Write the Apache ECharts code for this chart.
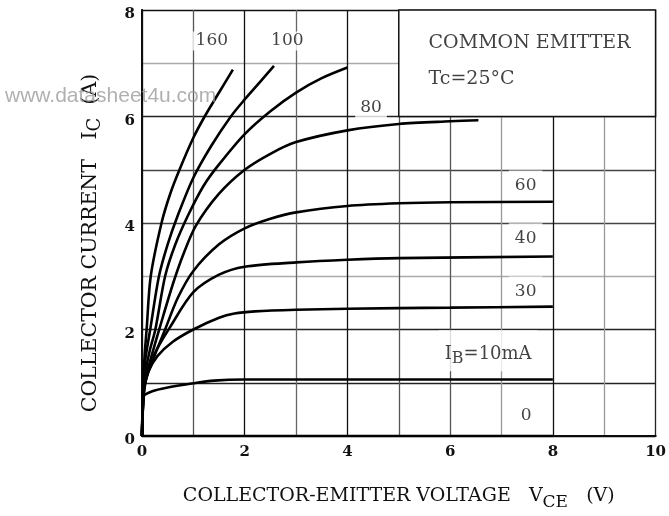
<!DOCTYPE html>
<html>
<head>
<meta charset="utf-8">
<script src="https://cdn.jsdelivr.net/npm/echarts@6/dist/echarts.min.js"></script>
<style>html,body{margin:0;padding:0;background:#fff}#c{width:669px;height:516px}</style>
</head>
<body>
<div id="c"></div>
<script>
// ---- data (VCE [V], IC [A]) ----
const ib0   = [[0,0],[8,0]];
const ib10  = [[0,0],[0.01,0.45],[0.03,0.74],[0.2,0.84],[0.5,0.91],[1,0.99],[1.4,1.04],[2,1.06],[4,1.06],[6,1.06],[8,1.06]];
const ib30  = [[0,0],[0.02,0.55],[0.05,0.9],[0.12,1.2],[0.3,1.5],[0.6,1.77],[1,2.0],[1.5,2.22],[1.8,2.3],[2.2,2.34],[3,2.37],[4,2.39],[6,2.41],[8,2.43]];
const ib40  = [[0,0],[0.02,0.6],[0.06,1.0],[0.25,1.55],[0.55,2.05],[1,2.7],[1.5,3.03],[2,3.18],[3,3.26],[4,3.31],[5,3.34],[8,3.37]];
const ib60  = [[0,0],[0.02,0.6],[0.06,1.0],[0.2,1.4],[0.45,2.0],[0.7,2.6],[1,3.1],[1.5,3.6],[2,3.9],[2.5,4.08],[3,4.2],[4,4.32],[5,4.37],[6,4.39],[8,4.4]];
const ib80  = [[0,0],[0.02,0.6],[0.05,1.0],[0.2,1.55],[0.35,2.05],[0.6,2.85],[0.8,3.4],[1.05,3.95],[1.5,4.55],[2,5.0],[2.5,5.3],[3,5.52],[4,5.74],[5,5.86],[6,5.91],[6.55,5.93]];
const ibUnl = [[0,0],[0.02,0.7],[0.05,1.1],[0.15,1.6],[0.26,2.0],[0.45,3.0],[0.65,3.6],[0.9,4.15],[1.2,4.7],[1.5,5.1],[2,5.67],[2.5,6.1],[3,6.45],[3.5,6.72],[4.0,6.92]];
const ib100 = [[0,0],[0.02,0.8],[0.06,1.4],[0.16,2.0],[0.33,3.0],[0.5,3.6],[0.7,4.15],[1.0,4.85],[1.35,5.45],[1.73,6.0],[2.0,6.32],[2.3,6.65],[2.57,6.95]];
const ib160 = [[0,0],[0.02,0.9],[0.05,1.5],[0.09,2.0],[0.17,3.0],[0.38,4.0],[0.55,4.55],[0.73,5.0],[1.0,5.6],[1.22,6.0],[1.5,6.45],[1.77,6.88]];

const curves = [
  ['IB=0', ib0], ['IB=10', ib10], ['IB=30', ib30], ['IB=40', ib40], ['IB=60', ib60],
  ['IB=80', ib80], ['IB=?', ibUnl], ['IB=100', ib100], ['IB=160', ib160]
];

// curve labels: [VCE, IC, text]
const curveLabels = [
  [1.36, 7.42, '160'],
  [2.83, 7.42, '100'],
  [4.46, 6.12, '80'],
  [7.47, 4.75, '60'],
  [7.47, 3.76, '40'],
  [7.47, 2.76, '30'],
  [6.74, 1.6, '{i|I}{s|B}{i|=10mA}'],
  [7.48, 0.39, '0']
];
const noteLabels = [
  [5.58, 7.38, 'COMMON EMITTER'],
  [5.58, 6.70, 'Tc=25°C']
];
const noteBox = [[5, 6], [10, 8]];

const xTicks = [0,2,4,6,8,10];
const yTicks = [0,2,4,6,8];

const xGridColors = ['#000','#555','#111','#666','#111','#555','#555','#999','#111','#999','#222'];
const yGridColors = ['#000','#222','#222','#aaa','#444','#444','#222','#aaa','#111'];

const SERIF = '"DejaVu Serif", "Liberation Serif", serif';
const chart = echarts.init(document.getElementById('c'));

// white backing (padding) for labels that interrupt grid lines
function labelPadding(text) {
  if (text === '80') return [1, 5, 6, 5];
  if (text === '60' || text === '40' || text === '30') return [7, 6, 1, 6];
  if (text.indexOf('10mA') >= 0) return [11, 6, 4, 6];
  return [1, 3];
}

const series = curves.map((c, i) => ({
  name: c[0], type: 'line', data: c[1], showSymbol: false, silent: true,
  smooth: 0.3, z: 3,
  lineStyle: { color: '#000', width: 2.6 },
  markArea: i === 0 ? {
    silent: true, z: 1,
    itemStyle: { color: '#fff', borderColor: '#111', borderWidth: 1.5 },
    data: [[{ coord: noteBox[0] }, { coord: noteBox[1] }]]
  } : undefined
}));

series.push({
  type: 'scatter', silent: true, symbolSize: 0, z: 5,
  data: curveLabels.map(d => ({
    value: [d[0], d[1]],
    label: { formatter: d[2], padding: labelPadding(d[2]) }
  })),
  label: {
    show: true, position: 'inside', color: '#111', fontFamily: SERIF, fontSize: 17,
    backgroundColor: '#fff',
    rich: {
      i: { fontFamily: SERIF, fontSize: 18, color: '#111' },
      s: { fontFamily: SERIF, fontSize: 16, color: '#111', padding: [10, 0, 0, 0] }
    }
  }
});
series.push({
  type: 'scatter', silent: true, symbolSize: 0, z: 5,
  data: noteLabels.map(d => ({ value: [d[0], d[1]], label: { formatter: d[2] } })),
  label: { show: true, position: 'right', distance: 0, color: '#111', fontFamily: SERIF, fontSize: 19 }
});

const borderAxis = {
  show: true,
  axisLine: { show: true, lineStyle: { color: '#111', width: 1.6 } },
  axisTick: { show: false }, axisLabel: { show: false }, splitLine: { show: false }
};

chart.setOption({
  animation: false,
  backgroundColor: '#fff',
  grid: { left: 142, right: 10, top: 10, bottom: 77 },
  xAxis: [{
    type: 'value', min: 0, max: 10, interval: 1,
    axisLine: { lineStyle: { color: '#000', width: 2 } },
    axisTick: { show: false },
    axisLabel: {
      margin: 9, color: '#111', fontFamily: SERIF, fontSize: 15, fontWeight: 'bold',
      formatter: v => xTicks.includes(v) ? String(v) : ''
    },
    splitLine: { show: true, showMinLine: true, showMaxLine: true, lineStyle: { color: xGridColors, width: 1.3 } },
    name: '{t|COLLECTOR-EMITTER VOLTAGE   V}{s|CE}{t|   (V)}',
    nameLocation: 'middle', nameGap: 46,
    nameTextStyle: {
      rich: {
        t: { fontFamily: SERIF, fontSize: 19, color: '#111' },
        s: { fontFamily: SERIF, fontSize: 17, color: '#111', padding: [12, 0, 0, 0] }
      }
    }
  }, Object.assign({ type: 'value', min: 0, max: 10, position: 'top' }, borderAxis)],
  yAxis: [{
    type: 'value', min: 0, max: 8, interval: 1,
    axisLine: { show: true, lineStyle: { color: '#000', width: 2 } },
    axisTick: { show: false },
    axisLabel: {
      margin: 7, color: '#111', fontFamily: SERIF, fontSize: 15, fontWeight: 'bold',
      verticalAlign: 'top', lineHeight: 9,
      formatter: v => yTicks.includes(v) ? String(v) : ''
    },
    splitLine: { show: true, showMinLine: true, showMaxLine: true, lineStyle: { color: yGridColors, width: 1.3 } },
    name: '{t|COLLECTOR CURRENT   I}{s|C}{t|  (A)}',
    nameLocation: 'middle', nameRotate: 90, nameGap: 38,
    nameTextStyle: {
      padding: [0, 40, 0, 0],
      rich: {
        t: { fontFamily: SERIF, fontSize: 20.5, color: '#111' },
        s: { fontFamily: SERIF, fontSize: 18, color: '#111', padding: [8, 0, 0, 0] }
      }
    }
  }, Object.assign({ type: 'value', min: 0, max: 8, position: 'right' }, borderAxis)],
  graphic: [{
    type: 'text', left: 5, top: 86, z: 10, silent: true,
    style: { text: 'www.datasheet4u.com', fill: 'rgba(150,150,150,0.75)', font: '21px "Liberation Sans", Arial, sans-serif' }
  }],
  series: series
});
</script>
</body>
</html>
